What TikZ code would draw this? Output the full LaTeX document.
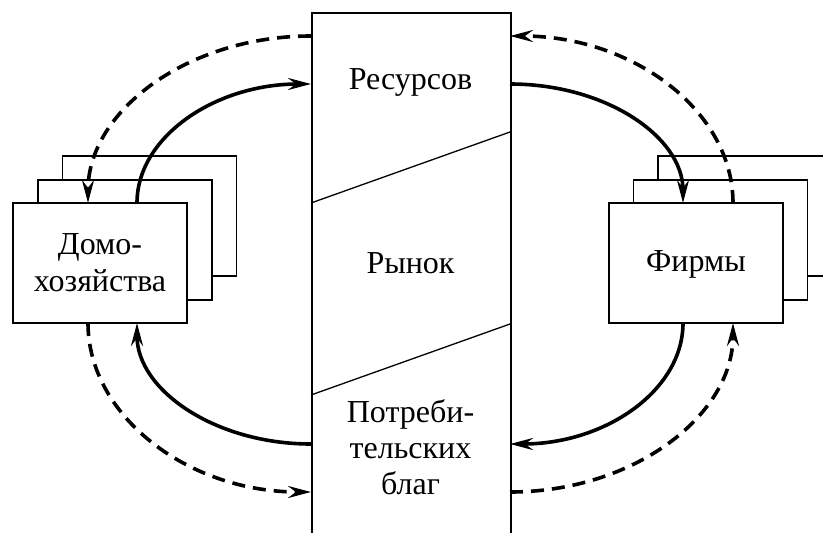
\documentclass[tikz,border=0pt]{standalone}
\usepackage{fontspec}
\setmainfont{Liberation Serif}
\usetikzlibrary{arrows.meta}
\begin{document}
\begin{tikzpicture}[x=1pt,y=-1pt,
  box/.style={draw,line width=1.8pt,fill=white,minimum width=174pt,minimum height=120pt,inner sep=0pt},
  lbl/.style={font=\fontsize{32}{37}\selectfont,align=center,inner sep=0pt},
  flow/.style={line width=3.6pt,-{Stealth[length=23pt,width=12pt,inset=8pt]}},
  money/.style={flow,dash pattern=on 13pt off 8pt},
  divider/.style={line width=1.3pt}]
\useasboundingbox (0,0) rectangle (823,533);
% market column
\node[draw,line width=1.8pt,minimum width=199pt,minimum height=560pt,inner sep=0pt,anchor=north west] (market) at (311,12) {};
\draw[divider] (311,203) -- (510,132);
\draw[divider] (311,395) -- (510,324);
\node[lbl,anchor=base] (res) at (410.5,89) {Ресурсов};
\node[lbl,anchor=base] (ryn) at (410.5,273) {Рынок};
\node[lbl,anchor=base] (pot1) at (410.5,422) {Потреби-};
\node[lbl,anchor=base] (pot2) at (410.5,458) {тельских};
\node[lbl,anchor=base] (pot3) at (410.5,494) {благ};
% households
\node[box] (hh3) at (149.5,216) {};
\node[box] (hh2) at (125,240) {};
\node[box] (hh) at (100,263) {};
\node[lbl] (hhtext) at (100,263) {Домо-\\хозяйства};
% firms
\node[box] (f3) at (745,216) {};
\node[box] (f2) at (720.5,240) {};
\node[box] (f) at (696,263) {};
\node[lbl] (ftext) at (696,264) {Фирмы};
% attachment points
\coordinate (mL1) at (311,36);
\coordinate (mL2) at (311,84);
\coordinate (mL3) at (311,444);
\coordinate (mL4) at (311,492);
\coordinate (mR1) at (510,36);
\coordinate (mR2) at (510,84);
\coordinate (mR3) at (510,444);
\coordinate (mR4) at (510,492);
\coordinate (hhTa) at (88,203);
\coordinate (hhTb) at (137,203);
\coordinate (hhBa) at (88,323);
\coordinate (hhBb) at (137,323);
\coordinate (fTa) at (683,203);
\coordinate (fTb) at (733,203);
\coordinate (fBa) at (683,323);
\coordinate (fBb) at (733,323);
% left flows
\draw[money] (mL1) .. controls (188,36) and (88,111) .. (hhTa);
\draw[flow] (hhTb) .. controls (137,137) and (215,84) .. (mL2);
\draw[flow] (mL3) .. controls (215,444) and (137,390) .. (hhBb);
\draw[money] (hhBa) .. controls (88,416) and (188,492) .. (mL4);
% right flows
\draw[money] (fTb) .. controls (733,111) and (633,36) .. (mR1);
\draw[flow] (mR2) .. controls (606,84) and (683,137) .. (fTa);
\draw[flow] (fBa) .. controls (683,390) and (606,444) .. (mR3);
\draw[money] (mR4) .. controls (633,492) and (733,416) .. (fBb);
\end{tikzpicture}
\end{document}
